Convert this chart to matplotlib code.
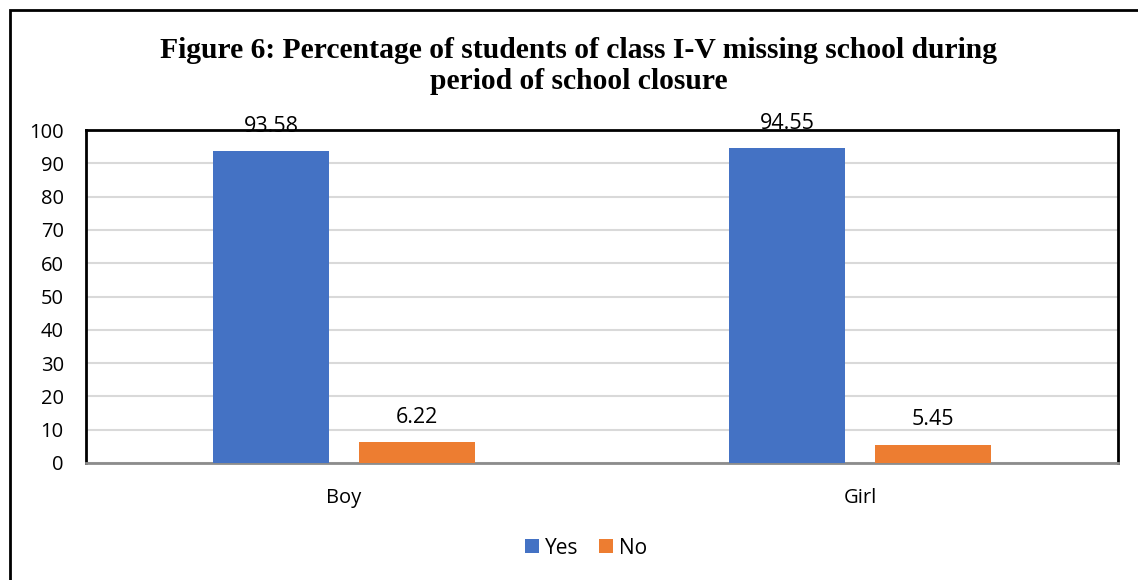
import matplotlib.pyplot as plt
from matplotlib.patches import Rectangle
import numpy as np

categories = ['Boy', 'Girl']
yes_vals = [93.58, 94.55]
no_vals = [6.22, 5.45]
yticks = list(range(0, 101, 10))

BLUE = '#4472C4'
ORANGE = '#ED7D31'
W, H = 1138, 580

fig = plt.figure(figsize=(W / 100, H / 100), dpi=100)
ax = fig.add_axes([86 / W, 1 - 463 / H, (1118 - 86) / W, (463 - 130) / H])

x = np.arange(len(categories))
bw = 0.225
off = 0.1415
b1 = ax.bar(x - off, yes_vals, bw, color=BLUE, label='Yes', zorder=3)
b2 = ax.bar(x + off, no_vals, bw, color=ORANGE, label='No', zorder=3)

sans = 'Open Sans'
for bars, vals in ((b1, yes_vals), (b2, no_vals)):
    for r, v in zip(bars, vals):
        ax.annotate(f'{v:.2f}', (r.get_x() + r.get_width() / 2, v),
                    xytext=(0, 18), textcoords='offset points',
                    ha='center', va='center', fontsize=15.5,
                    family=sans, color='black', zorder=5,
                    annotation_clip=False)

ax.set_xlim(-0.5, 1.5)
ax.set_ylim(0, 100)
ax.set_yticks(yticks)
ax.set_xticks(x)
ax.set_xticklabels(categories)
ax.yaxis.grid(True, color='#D9D9D9', linewidth=1.5, zorder=0)
ax.set_axisbelow(True)
ax.tick_params(length=0, labelsize=14.5, pad=16, labelcolor='black')
ax.tick_params(axis='x', pad=18)
for t in ax.get_xticklabels() + ax.get_yticklabels():
    t.set_family(sans)
for s in ('left', 'top', 'right'):
    ax.spines[s].set_color('black')
    ax.spines[s].set_linewidth(2)
ax.spines['bottom'].set_color('#8C8C8C')
ax.spines['bottom'].set_linewidth(2)

fig.text(579 / W, 1 - 50 / H,
         'Figure 6: Percentage of students of class I-V missing school during',
         ha='center', va='center', fontsize=21.3, fontweight='bold',
         family='Liberation Serif')
fig.text(579 / W, 1 - 82 / H, 'period of school closure',
         ha='center', va='center', fontsize=21.3, fontweight='bold',
         family='Liberation Serif')

leg = fig.legend(handles=[b1, b2], loc='center', bbox_to_anchor=(586 / W, 1 - 548 / H),
                 ncol=2, frameon=False, handlelength=0.65, handleheight=0.65,
                 handletextpad=0.3, columnspacing=1.0,
                 prop={'family': sans, 'size': 15})

# outer chart border, running off the right and bottom edges
fig.patches.append(Rectangle((10 / W, -0.1), 1.2, 1 - 10 / H + 0.1,
                             transform=fig.transFigure, fill=False,
                             edgecolor='black', linewidth=2))

fig.savefig('out.png', dpi=100)
